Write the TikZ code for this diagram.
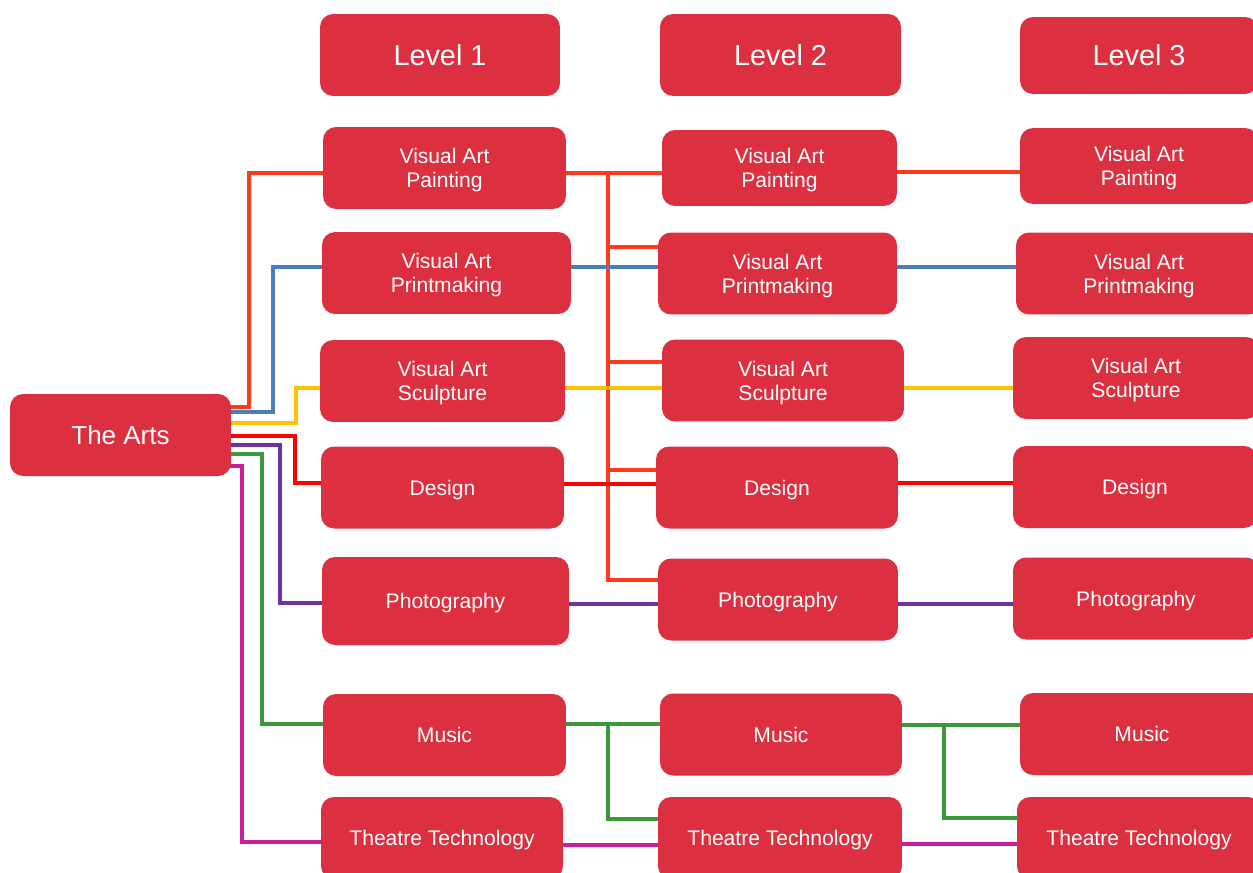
\documentclass[tikz,border=0pt]{standalone}
\usepackage{fontspec}
\setmainfont{Liberation Sans}
\usetikzlibrary{backgrounds}

\definecolor{tilered}{HTML}{DC2F40}
\definecolor{linepaint}{HTML}{FF3A1C}
\definecolor{lineprint}{HTML}{4A7EBB}
\definecolor{linesculpt}{HTML}{FFC000}
\definecolor{linedesign}{HTML}{FF0000}
\definecolor{linephoto}{HTML}{7030A0}
\definecolor{linemusic}{HTML}{3A9A3A}
\definecolor{linetheatre}{HTML}{C81E9E}

\begin{document}
\begin{tikzpicture}[x=0.02cm, y=-0.02cm,
		tile/.style={fill=tilered, rounded corners=0.26cm, text=white, align=center, inner sep=2pt,
			text depth=0pt, minimum height=1.64cm, font=\fontsize{12}{13.6}\selectfont},
		head/.style={tile, font=\fontsize{16.4}{19}\selectfont},
		link/.style={line width=2pt, line cap=rect,
			preaction={draw=black!15, transform canvas={shift={(0.7pt,-1pt)}}}}]
			\useasboundingbox (0, 0) rectangle (1253, 872);
			\clip (0, 0) rectangle (1253, 872);

			% column headers
			\draw (440, 55) 	node[head, minimum width=4.8cm] 	(lev1) 		{Level 1};
			\draw (780.5, 55) 	node[head, minimum width=4.82cm] 	(lev2) 		{Level 2};
			\draw (1139, 55.5) 	node[head, minimum width=4.76cm, minimum height=1.54cm] 	(lev3) 		{Level 3};

			\draw (120.5, 435) 	node[tile, minimum width=4.42cm, font=\fontsize{14.8}{17}\selectfont] 	(arts) 	{The Arts};

			% level 1
			\draw (444.5, 168) 	node[tile, minimum width=4.86cm] 	(paint1) 	{Visual Art\\Painting};
			\draw (446.5, 273) 	node[tile, minimum width=4.98cm] 	(print1) 	{Visual Art\\Printmaking};
			\draw (442.5, 381) 	node[tile, minimum width=4.9cm] 	(sculpt1) 	{Visual Art\\Sculpture};
			\draw (442.5, 487.5) 	node[tile, minimum width=4.86cm] 	(design1) 	{Design};
			\draw (445.5, 601) 	node[tile, minimum width=4.94cm, minimum height=1.76cm] 	(photo1) 	{Photography};
			\draw (444.5, 735) 	node[tile, minimum width=4.86cm] 	(music1) 	{Music};
			\draw (442, 838) 	node[tile, minimum width=4.84cm] 	(theatre1) 	{Theatre Technology};

			% level 2
			\draw (779.5, 168) 	node[tile, minimum width=4.7cm, minimum height=1.52cm] 	(paint2) 	{Visual Art\\Painting};
			\draw (777.5, 273.5) 	node[tile, minimum width=4.78cm] 	(print2) 	{Visual Art\\Printmaking};
			\draw (783, 380.5) 	node[tile, minimum width=4.84cm] 	(sculpt2) 	{Visual Art\\Sculpture};
			\draw (777, 487.5) 	node[tile, minimum width=4.84cm] 	(design2) 	{Design};
			\draw (778, 599.5) 	node[tile, minimum width=4.8cm] 	(photo2) 	{Photography};
			\draw (781, 734.5) 	node[tile, minimum width=4.84cm] 	(music2) 	{Music};
			\draw (780, 838) 	node[tile, minimum width=4.88cm] 	(theatre2) 	{Theatre Technology};

			% level 3
			\draw (1139, 166) 	node[tile, minimum width=4.76cm, minimum height=1.52cm] 	(paint3) 	{Visual Art\\Painting};
			\draw (1139, 273.5) 	node[tile, minimum width=4.92cm] 	(print3) 	{Visual Art\\Printmaking};
			\draw (1136, 378) 	node[tile, minimum width=4.92cm] 	(sculpt3) 	{Visual Art\\Sculpture};
			\draw (1135, 487) 	node[tile, minimum width=4.88cm] 	(design3) 	{Design};
			\draw (1136, 598.5) 	node[tile, minimum width=4.92cm] 	(photo3) 	{Photography};
			\draw (1142, 734) 	node[tile, minimum width=4.88cm] 	(music3) 	{Music};
			\draw (1139, 838) 	node[tile, minimum width=4.88cm] 	(theatre3) 	{Theatre Technology};

			\begin{scope}[on background layer]
			% from The Arts
			\draw[link, linepaint] 	(arts.east |- 0, 407) -| (249, 173) -- (paint1.west |- 0, 173);
			\draw[link, lineprint] 	(arts.east |- 0, 412) -| (273, 267) -- (print1.west |- 0, 267);
			\draw[link, linesculpt] 	(arts.east |- 0, 423) -| (296, 388) -- (sculpt1.west |- 0, 388);
			\draw[link, linedesign] 	(arts.east |- 0, 436) -| (295, 483) -- (design1.west |- 0, 483);
			\draw[link, linephoto] 	(arts.east |- 0, 445) -| (280, 603) -- (photo1.west |- 0, 603);
			\draw[link, linemusic] 	(arts.east |- 0, 454) -| (262, 724) -- (music1.west |- 0, 724);
			\draw[link, linetheatre] 	(arts.east |- 0, 466) -| (242, 842) -- (theatre1.west |- 0, 842);

			% level 1 to level 2
			\draw[link, linepaint] 	(paint1.east |- 0, 173) -- (paint2.west |- 0, 173);
			\draw[link, linepaint] 	(608, 173) |- (photo2.west |- 0, 580);
			\draw[link, linepaint] 	(608, 247) -- (print2.west |- 0, 247);
			\draw[link, linepaint] 	(608, 362) -- (sculpt2.west |- 0, 362);
			\draw[link, linepaint] 	(608, 470) -- (design2.west |- 0, 470);
			\draw[link, lineprint] 	(print1.east |- 0, 267) -- (print2.west |- 0, 267);
			\draw[link, linesculpt] 	(sculpt1.east |- 0, 388) -- (sculpt2.west |- 0, 388);
			\draw[link, linedesign] 	(design1.east |- 0, 484) -- (design2.west |- 0, 484);
			\draw[link, linephoto] 	(photo1.east |- 0, 604) -- (photo2.west |- 0, 604);
			\draw[link, linemusic] 	(music1.east |- 0, 724) -- (music2.west |- 0, 724);
			\draw[link, linemusic] 	(608, 724) |- (theatre2.west |- 0, 819);
			\draw[link, linetheatre] 	(theatre1.east |- 0, 845) -- (theatre2.west |- 0, 845);

			% level 2 to level 3
			\draw[link, linepaint] 	(paint2.east |- 0, 172) -- (paint3.west |- 0, 172);
			\draw[link, lineprint] 	(print2.east |- 0, 267) -- (print3.west |- 0, 267);
			\draw[link, linesculpt] 	(sculpt2.east |- 0, 388) -- (sculpt3.west |- 0, 388);
			\draw[link, linedesign] 	(design2.east |- 0, 483) -- (design3.west |- 0, 483);
			\draw[link, linephoto] 	(photo2.east |- 0, 604) -- (photo3.west |- 0, 604);
			\draw[link, linemusic] 	(music2.east |- 0, 725) -- (music3.west |- 0, 725);
			\draw[link, linemusic] 	(944, 725) |- (theatre3.west |- 0, 818);
			\draw[link, linetheatre] 	(theatre2.east |- 0, 844) -- (theatre3.west |- 0, 844);
			\end{scope}
		\end{tikzpicture}
\end{document}
